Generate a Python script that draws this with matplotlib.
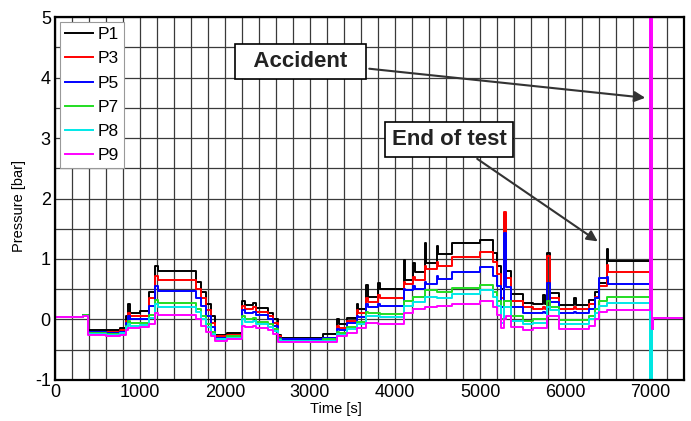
import numpy as np
import matplotlib.pyplot as plt
from matplotlib.ticker import MultipleLocator

plt.rcParams['font.family'] = ['Liberation Sans', 'DejaVu Sans']
plt.rcParams['axes.unicode_minus'] = False

# step breakpoints (time in s, pressure in bar)
t = [0, 330, 390, 600, 760, 830, 860, 880, 1000, 1100, 1180, 1210, 1660, 1720,
     1780, 1840, 1880, 2020, 2200, 2230, 2330, 2360, 2500, 2560, 2620, 2660,
     3150, 3320, 3340, 3430, 3550, 3570, 3660, 3680, 3800, 3820, 4100, 4120,
     4210, 4230, 4350, 4370, 4490, 4510, 4670, 5000, 5150, 5200, 5250, 5280,
     5300, 5370, 5500, 5620, 5740, 5760, 5790, 5820, 5930, 6110, 6130, 6280,
     6350, 6400, 6490, 6510, 7000, 7020, 7040, 7400]

P1 = [0.04, 0.08, -0.17, -0.18, -0.14, 0.05, 0.25, 0.10, 0.14, 0.45, 0.88, 0.80, 0.62, 0.45,
      0.25, 0.05, -0.25, -0.22, 0.30, 0.24, 0.28, 0.19, 0.10, 0.00, -0.25, -0.30,
      -0.24, 0.00, -0.08, 0.03, 0.25, 0.17, 0.57, 0.38, 0.61, 0.50, 0.98, 0.65,
      0.93, 0.79, 1.26, 0.93, 1.21, 1.08, 1.26, 1.32, 1.10, 0.88, 0.50, 1.75,
      0.80, 0.42, 0.28, 0.26, 0.40, 0.26, 1.10, 0.43, 0.24, 0.35, 0.24, 0.32,
      0.46, 0.60, 1.16, 0.96, -1.5, -0.15, 0.02, 0.02]
P3 = [0.04, 0.07, -0.20, -0.21, -0.18, -0.02, 0.10, 0.05, 0.06, 0.36, 0.72, 0.65, 0.50, 0.35,
      0.15, -0.05, -0.28, -0.25, 0.22, 0.17, 0.20, 0.13, 0.05, -0.05, -0.28, -0.32,
      -0.30, -0.10, -0.14, -0.02, 0.15, 0.11, 0.35, 0.29, 0.40, 0.36, 0.62, 0.58,
      0.70, 0.65, 0.88, 0.84, 0.95, 0.88, 1.04, 1.12, 0.95, 0.75, 0.35, 1.77,
      0.68, 0.31, 0.20, 0.17, 0.20, 0.17, 1.05, 0.35, 0.18, 0.20, 0.18, 0.25,
      0.38, 0.55, 0.90, 0.79, -1.5, -0.15, 0.02, 0.02]
P5 = [0.04, 0.07, -0.21, -0.22, -0.20, -0.06, 0.05, 0.00, 0.01, 0.22, 0.55, 0.47, 0.35, 0.22,
      0.05, -0.12, -0.30, -0.27, 0.15, 0.10, 0.13, 0.07, 0.00, -0.10, -0.30, -0.33,
      -0.31, -0.15, -0.18, -0.06, 0.06, 0.04, 0.25, 0.21, 0.26, 0.23, 0.50, 0.48,
      0.55, 0.51, 0.62, 0.59, 0.72, 0.67, 0.79, 0.86, 0.72, 0.55, 0.20, 1.43,
      0.53, 0.20, 0.10, 0.10, 0.12, 0.10, 0.60, 0.29, 0.10, 0.12, 0.10, 0.18,
      0.35, 0.68, 0.70, 0.59, -1.5, -0.15, 0.02, 0.02]
P7 = [0.04, 0.07, -0.23, -0.24, -0.22, -0.10, -0.03, -0.06, -0.05, 0.07, 0.32, 0.27, 0.18, 0.06,
      -0.08, -0.20, -0.32, -0.28, 0.05, 0.00, 0.02, -0.04, -0.08, -0.15, -0.32, -0.35,
      -0.33, -0.20, -0.22, -0.12, -0.04, -0.04, 0.12, 0.10, 0.10, 0.09, 0.31, 0.31,
      0.37, 0.37, 0.48, 0.48, 0.45, 0.45, 0.52, 0.57, 0.45, 0.30, 0.00, 0.30,
      0.30, 0.06, -0.02, 0.00, 0.00, 0.00, 0.30, 0.21, -0.01, -0.01, -0.01, 0.06,
      0.18, 0.30, 0.38, 0.38, -1.5, -0.15, 0.02, 0.02]
P8 = [0.04, 0.06, -0.24, -0.25, -0.23, -0.13, -0.08, -0.10, -0.09, 0.02, 0.25, 0.21, 0.12, 0.00,
      -0.13, -0.24, -0.33, -0.30, 0.00, -0.04, -0.02, -0.08, -0.12, -0.19, -0.34, -0.36,
      -0.35, -0.24, -0.25, -0.16, -0.07, -0.07, 0.06, 0.05, 0.05, 0.04, 0.22, 0.22,
      0.29, 0.29, 0.37, 0.37, 0.36, 0.36, 0.42, 0.48, 0.38, 0.22, -0.05, 0.20,
      0.20, -0.03, -0.08, -0.05, -0.05, -0.05, 0.20, 0.16, -0.07, -0.07, -0.07, 0.00,
      0.10, 0.22, 0.28, 0.28, -1.5, -0.15, 0.02, 0.02]
P9 = [0.04, 0.05, -0.26, -0.27, -0.25, -0.17, -0.14, -0.14, -0.13, -0.07, 0.10, 0.07, 0.00, -0.10,
      -0.20, -0.28, -0.36, -0.33, -0.10, -0.12, -0.10, -0.14, -0.18, -0.24, -0.37, -0.38,
      -0.37, -0.28, -0.28, -0.22, -0.14, -0.14, -0.05, -0.05, -0.07, -0.07, 0.11, 0.11,
      0.17, 0.17, 0.21, 0.21, 0.22, 0.22, 0.25, 0.30, 0.20, 0.08, -0.14, 0.00,
      0.05, -0.13, -0.17, -0.14, -0.14, -0.14, 0.06, 0.06, -0.15, -0.15, -0.15, -0.10,
      0.00, 0.12, 0.16, 0.16, 5.5, -0.15, 0.02, 0.02]

names = ['P1', 'P3', 'P5', 'P7', 'P8', 'P9']
series = [P1, P3, P5, P7, P8, P9]
colors = ['#000000', '#ff0000', '#0000ff', '#22dd22', '#00e8e8', '#ff00ff']

fig = plt.figure(figsize=(6.91, 4.21), dpi=100)
ax = fig.add_axes([0.0796, 0.0974, 0.9103, 0.8622])

for name, vals, c in zip(names, series, colors):
    ax.plot(t, vals, drawstyle='steps-post', color=c, lw=1.4, label=name)

ax.set_xlim(0, 7400)
ax.set_ylim(-1, 5)
ax.xaxis.set_major_locator(MultipleLocator(1000))
ax.xaxis.set_minor_locator(MultipleLocator(200))
ax.yaxis.set_major_locator(MultipleLocator(1))
ax.yaxis.set_minor_locator(MultipleLocator(0.5))
ax.grid(True, which='both', color='#3a3a3a', lw=0.9)
ax.set_axisbelow(True)
ax.tick_params(which='both', length=0, labelsize=13, pad=3)
for s in ax.spines.values():
    s.set_linewidth(1.6)

ax.set_xlabel('Time [s]', fontsize=10.5)
ax.set_ylabel('Pressure [bar]', fontsize=10.5)
ax.xaxis.set_label_coords(0.447, -0.062)
ax.yaxis.set_label_coords(-0.046, 0.48)

leg = ax.legend(loc='upper left', fontsize=12.5, labelspacing=0.52, handlelength=1.6,
                handletextpad=0.25, borderpad=0.3, borderaxespad=0.28,
                fancybox=False, framealpha=1, edgecolor='#999999')
leg.get_frame().set_linewidth(0.8)

box = dict(boxstyle='square,pad=0.3', fc='white', ec='black', lw=1.2)
arrow = dict(arrowstyle='-|>', color='#333333', lw=1.5, mutation_scale=16)
ax.annotate('  Accident  ', xy=(6976, 3.66), xytext=(2888, 4.265), fontsize=16,
            fontweight='bold', color='#222222', ha='center', va='center',
            bbox=box, arrowprops=arrow)
ax.annotate('End of test', xy=(6412, 1.265), xytext=(4635, 2.975), fontsize=16,
            fontweight='bold', color='#222222', ha='center', va='center',
            bbox=box, arrowprops=arrow)

fig.savefig('out.png', dpi=100)
